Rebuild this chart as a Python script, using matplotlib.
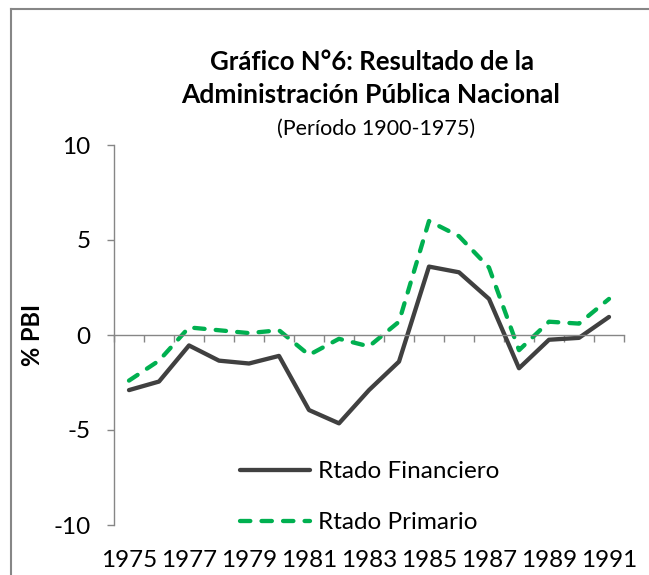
"""Gráfico N°6: Resultado de la Administración Pública Nacional."""

import matplotlib

matplotlib.use("Agg")
import matplotlib.pyplot as plt
import numpy as np
from matplotlib.lines import Line2D

years = list(range(1975, 1992))
financiero = [-2.9, -2.45, -0.55, -1.35, -1.5, -1.1, -3.95, -4.65, -2.9, -1.4,
              3.6, 3.3, 1.9, -1.75, -0.25, -0.15, 0.95]
primario = [-2.4, -1.35, 0.4, 0.25, 0.1, 0.25, -1.05, -0.2, -0.6, 0.7,
            6.0, 5.2, 3.55, -0.8, 0.7, 0.6, 1.9]
label_years = years[::2]
y_ticks = [-10, -5, 0, 5, 10]

GRAY = "#868686"
FONT = "Lato"

plt.rcParams["font.family"] = [FONT, "DejaVu Sans"]

fig = plt.figure(figsize=(6.49, 5.75), dpi=100)
ax = fig.add_axes([114 / 649, 1 - 525 / 575, 510 / 649, 380 / 575])

ax.plot(years, financiero, color="#404040", lw=3.1, solid_capstyle="round",
        label="Rtado Financiero")
ax.plot(years, primario, color="#00B050", lw=3.1, dashes=(2.4, 2.6),
        dash_capstyle="round", label="Rtado Primario")

ax.set_xlim(years[0] - 0.5, years[-1] + 0.5)
ax.set_ylim(-10, 10)
ax.set_yticks(y_ticks)
ax.set_yticklabels([str(v) for v in y_ticks], fontsize=17.5)

# category axis crosses at zero, ticks on the category boundaries
ax.spines["bottom"].set_position(("data", 0))
ax.set_xticks(np.arange(years[0] - 0.5, years[-1] + 1, 1.0))
ax.set_xticklabels([])
ax.spines["top"].set_visible(False)
ax.spines["right"].set_visible(False)
for s in ("left", "bottom"):
    ax.spines[s].set_color(GRAY)
    ax.spines[s].set_linewidth(1.0)
ax.tick_params(axis="x", direction="out", length=5, width=1.0, color=GRAY)
ax.tick_params(axis="y", direction="out", length=5, width=1.0, color=GRAY, pad=12)

# year labels sit at the bottom of the plot
sec = ax.secondary_xaxis("bottom")
sec.set_xticks(label_years)
sec.set_xticklabels([str(y) for y in label_years], fontsize=17.5)
sec.tick_params(length=0, pad=18)
sec.spines["bottom"].set_visible(False)

fig.text(372 / 649, 1 - 62 / 575, "Gráfico N°6: Resultado de la", ha="center",
         va="center", fontsize=18.5, fontweight="bold")
fig.text(371 / 649, 1 - 95 / 575, "Administración Pública Nacional", ha="center",
         va="center", fontsize=19, fontweight="bold")
fig.text(376 / 649, 1 - 129 / 575, "(Período 1900-1975)", ha="center",
         va="center", fontsize=15.5)
fig.text(33 / 649, 1 - 335 / 575, "% PBI", rotation=90, ha="center", va="center",
         fontsize=17, fontweight="bold")

ax.legend(loc="upper left", bbox_to_anchor=(240 / 649, 1 - 461 / 575),
          bbox_transform=fig.transFigure, frameon=False, fontsize=17.5,
          handlelength=2.9, handletextpad=0.3, labelspacing=1.25,
          borderpad=0, borderaxespad=0)

# chart border (left and top edges are visible in the frame)
fig.add_artist(Line2D([11 / 649, 11 / 649], [0, 1 - 9 / 575], color=GRAY, lw=1.5,
                      transform=fig.transFigure))
fig.add_artist(Line2D([11 / 649, 1], [1 - 9 / 575, 1 - 9 / 575], color=GRAY, lw=1.5,
                      transform=fig.transFigure))

fig.savefig("out.png", dpi=100)
